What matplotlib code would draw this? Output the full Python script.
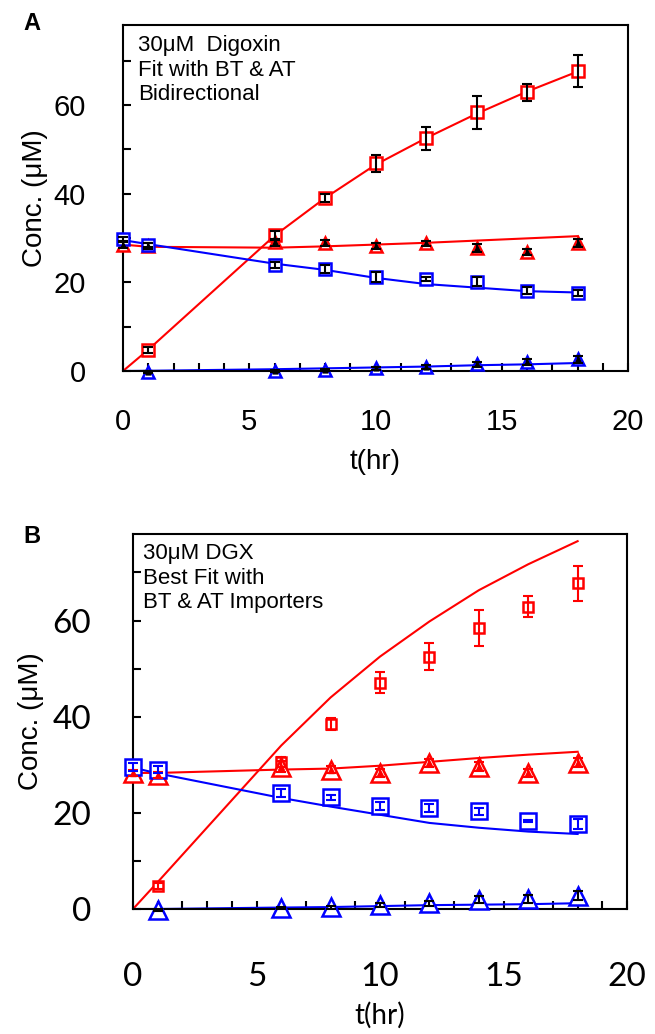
import numpy as np
import matplotlib
matplotlib.use("Agg")
import matplotlib.pyplot as plt
from matplotlib.ticker import MultipleLocator, FuncFormatter

plt.rcParams["font.family"] = ["Liberation Sans", "DejaVu Sans"]

# sampling times (hr)
t = [0, 1, 6, 8, 10, 12, 14, 16, 18]
t_late = t[1:]          # series that have no point at t=0

# ---- panel A: measured points ----
a_rsq = [4.7, 30.6, 39.0, 46.8, 52.5, 58.3, 62.8, 67.6]
a_rsq_err = [0.6, 1.0, 1.0, 2.0, 2.6, 3.8, 1.9, 3.6]
a_rtri = [28.4, 28.2, 29.0, 28.8, 28.1, 28.8, 27.7, 26.8, 28.8]
a_rtri_err = [0.6, 0.6, 0.8, 0.7, 0.7, 0.6, 0.9, 0.6, 0.9]
a_bsq = [29.7, 28.4, 23.9, 23.0, 21.2, 20.7, 20.1, 18.1, 17.5]
a_bsq_err = [0.5, 0.5, 0.6, 0.8, 1.1, 0.5, 1.0, 0.8, 0.7]
a_btri = [-0.3, 0.0, 0.2, 0.6, 0.9, 1.5, 2.0, 2.6]
a_btri_err = [0.2, 0.2, 0.3, 0.3, 0.4, 0.6, 0.6, 0.7]

# ---- panel A: model fit ----
a_fit_rsq = [0, 4.8, 30.5, 39.0, 46.5, 52.5, 58.0, 63.0, 67.5]
a_fit_rtri = [28.5, 28.0, 27.8, 28.1, 28.5, 28.9, 29.4, 29.9, 30.4]
a_fit_bsq = [29.5, 28.6, 24.2, 22.8, 21.0, 19.6, 18.8, 18.0, 17.7]
a_fit_btri = [0, 0.05, 0.4, 0.6, 0.8, 1.0, 1.3, 1.5, 1.8]

# ---- panel B: measured points ----
b_rsq = [4.8, 30.6, 38.5, 47.1, 52.5, 58.5, 62.9, 67.7]
b_rsq_err = [0.6, 1.0, 1.2, 2.1, 2.8, 3.75, 2.1, 3.6]
b_rtri = [28.3, 27.9, 29.6, 29.0, 28.3, 30.4, 29.6, 28.3, 30.4]
b_rtri_err = [0.6, 0.6, 1.2, 0.8, 0.8, 0.8, 1.0, 0.9, 0.9]
b_bsq = [29.6, 29.0, 24.1, 23.2, 21.4, 21.0, 20.3, 18.3, 17.7]
b_bsq_err = [0.8, 0.8, 0.8, 0.6, 0.8, 0.8, 0.7, 0.3, 1.0]
b_btri = [-0.3, 0.2, 0.4, 0.8, 1.2, 1.9, 2.1, 2.8]
b_btri_err = [0.2, 0.2, 0.3, 0.4, 0.5, 0.7, 0.8, 0.9]

# ---- panel B: model fit ----
b_fit_rsq = [0, 5.6, 34.0, 44.0, 52.5, 59.8, 66.3, 71.7, 76.5]
b_fit_rtri = [28.3, 28.3, 29.0, 29.2, 29.8, 30.6, 31.4, 32.1, 32.7]
b_fit_bsq = [29.4, 28.2, 23.1, 21.3, 19.6, 17.9, 16.9, 16.1, 15.6]
b_fit_btri = [0, 0, 0.3, 0.4, 0.6, 0.8, 0.9, 1.0, 1.2]

RED, BLUE = "#ff0000", "#0000ff"


def style_axes(ax, tickfont, size, xpad, ypad):
    ax.set_xlim(0, 20)
    ax.set_ylim(0, 78)
    ax.xaxis.set_major_locator(MultipleLocator(5))
    ax.xaxis.set_minor_locator(MultipleLocator(1))
    ax.yaxis.set_major_locator(MultipleLocator(10))
    ax.yaxis.set_major_formatter(FuncFormatter(lambda v, p: f"{v:g}" if v % 20 == 0 else ""))
    ax.tick_params(which="both", direction="in", length=6, width=1.5, top=False, right=False)
    ax.tick_params(axis="x", which="major", pad=xpad, labelsize=size)
    ax.tick_params(axis="y", which="major", pad=ypad, labelsize=size)
    for lab in ax.get_xticklabels() + ax.get_yticklabels():
        lab.set_fontfamily(tickfont)
    for s in ax.spines.values():
        s.set_linewidth(1.5)


def pts(ax, x, y, err, marker, color, ms, ecolor, inner=None):
    ax.plot(x, y, linestyle="none", marker=marker, ms=ms, mfc="white", mec=color,
            mew=1.8, clip_on=False, zorder=3)
    if inner:
        ax.plot(x, y, linestyle="none", marker=inner[0], ms=inner[1], color=inner[2],
                clip_on=False, zorder=4)
    ax.errorbar(x, y, yerr=err, fmt="none", ecolor=ecolor, elinewidth=1.5,
                capsize=3.5, capthick=1.5, zorder=5, clip_on=False)


fig = plt.figure(figsize=(6.55, 10.34), dpi=100)

# ---------------- panel A ----------------
axA = fig.add_axes([0.1878, 0.6412, 0.771, 0.3346])
axA.plot(t, a_fit_rsq, color=RED, lw=1.5, zorder=2)
axA.plot(t, a_fit_rtri, color=RED, lw=1.5, zorder=2)
axA.plot(t, a_fit_bsq, color=BLUE, lw=1.5, zorder=2)
axA.plot(t, a_fit_btri, color=BLUE, lw=1.5, zorder=2)
pts(axA, t_late, a_rsq, a_rsq_err, "s", RED, 8.5, "black")
pts(axA, t, a_rtri, a_rtri_err, "^", RED, 9, "black", inner=("^", 3.5, "black"))
pts(axA, t, a_bsq, a_bsq_err, "s", BLUE, 8.5, "black")
pts(axA, t_late, a_btri, a_btri_err, "^", BLUE, 9, "black", inner=("^", 3.5, "black"))
style_axes(axA, "Liberation Sans", 21, 27, 27)
axA.set_xlabel("t(hr)", fontsize=20, labelpad=9)
axA.set_ylabel("Conc. (μM)", fontsize=20, labelpad=4)
axA.text(0.03, 0.97, "30μM  Digoxin\nFit with BT & AT\nBidirectional", transform=axA.transAxes,
         fontsize=16, va="top", ha="left", linespacing=1.2)
fig.text(0.048, 0.977, "A", fontsize=17, fontweight="bold", ha="center", va="center")

# ---------------- panel B ----------------
axB = fig.add_axes([0.2031, 0.1209, 0.7542, 0.3627])
axB.plot(t, b_fit_rsq, color=RED, lw=1.5, zorder=2)
axB.plot(t, b_fit_rtri, color=RED, lw=1.5, zorder=2)
axB.plot(t, b_fit_bsq, color=BLUE, lw=1.5, zorder=2)
axB.plot(t, b_fit_btri, color=BLUE, lw=1.5, zorder=2)
pts(axB, t_late, b_rsq, b_rsq_err, "s", RED, 6.5, RED)
pts(axB, t, b_rtri, b_rtri_err, "^", RED, 13, RED, inner=("^", 4, RED))
pts(axB, t, b_bsq, b_bsq_err, "s", BLUE, 12, BLUE)
pts(axB, t_late, b_btri, b_btri_err, "^", BLUE, 13, "black")
style_axes(axB, "Lato", 24, 38, 30)
axB.set_xlabel("t(hr)", fontsize=20, fontfamily="Lato", labelpad=7)
axB.set_ylabel("Conc. (μM)", fontsize=20, labelpad=6)
axB.text(0.02, 0.975, "30μM DGX\nBest Fit with\nBT & AT Importers", transform=axB.transAxes,
         fontsize=16, va="top", ha="left", linespacing=1.2)
fig.text(0.048, 0.481, "B", fontsize=17, fontweight="bold", ha="center", va="center")

fig.savefig("out.png", dpi=100)
